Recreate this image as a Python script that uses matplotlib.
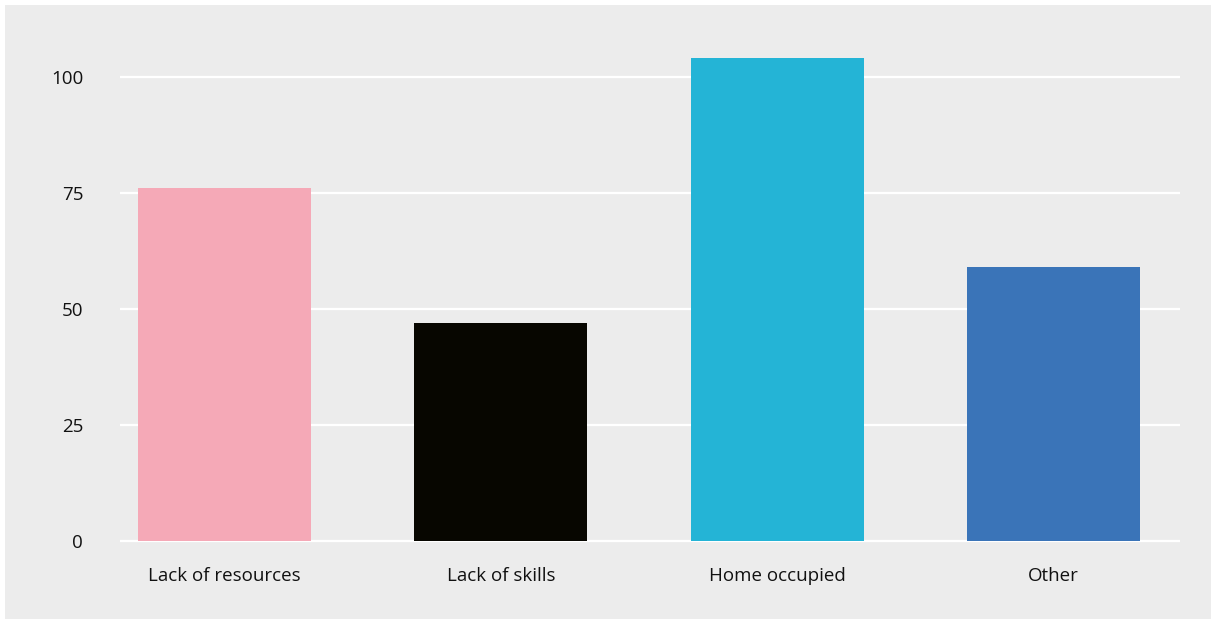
import matplotlib
matplotlib.use("Agg")
import matplotlib.pyplot as plt
from matplotlib.patches import Rectangle

categories = ["Lack of resources", "Lack of skills", "Home occupied", "Other"]
values = [76, 47, 104, 59]
colors = ["#F5A9B7", "#070600", "#24B4D6", "#3A74B8"]
yticks = [0, 25, 50, 75, 100]

W, H = 1211, 619
fig = plt.figure(figsize=(W / 100, H / 100), dpi=100, facecolor="white")

# grey panel behind the chart
fig.patches.append(Rectangle((5 / W, 0), 1 - 5 / W, 1 - 5 / H,
                             transform=fig.transFigure, facecolor="#ECECEC",
                             edgecolor="none", zorder=-10))

ax_left, ax_right = 120 / W, 1180 / W
ax_bottom, ax_top = 1 - 545 / H, 1 - 50 / H
ax = fig.add_axes([ax_left, ax_bottom, ax_right - ax_left, ax_top - ax_bottom])
ax.set_zorder(1)
ax.set_facecolor("none")

px_per_unit = (540.5 - 77) / 100
ax.set_ylim(-4.5 / px_per_unit, (540.5 - 50) / px_per_unit)
ax.set_xlim(-0.378, 3.458)

ax.bar(range(len(categories)), values, width=0.626, color=colors, zorder=3)

ax.set_yticks(yticks)
ax.yaxis.grid(True, color="white", linewidth=1.6, zorder=1)
ax.set_axisbelow(True)
for s in ax.spines.values():
    s.set_visible(False)
ax.tick_params(axis="both", length=0, labelsize=13.5, colors="#111111")
ax.tick_params(axis="y", pad=26.5)
ax.tick_params(axis="x", pad=15.5)
ax.set_xticks(range(len(categories)))
ax.set_xticklabels(categories)
for lbl in ax.get_xticklabels() + ax.get_yticklabels():
    lbl.set_family("Open Sans")

fig.savefig("out.png", dpi=100, facecolor="white")
